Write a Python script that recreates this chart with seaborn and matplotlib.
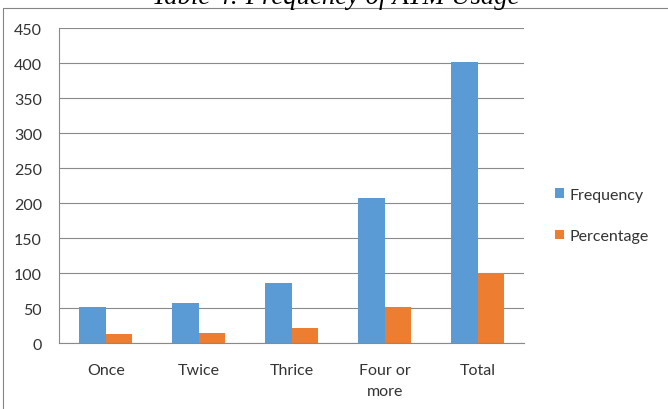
import matplotlib
matplotlib.use("Agg")
import matplotlib.pyplot as plt
from matplotlib.lines import Line2D
import numpy as np
import pandas as pd
import seaborn as sns

# ATM usage survey results
categories = ["Once", "Twice", "Thrice", "Four or\nmore", "Total"]
frequency = [52, 57, 86, 207, 402]
percentage = [12.9, 14.2, 21.4, 51.5, 100]
series_names = ["Frequency", "Percentage"]
y_ticks = [0, 50, 100, 150, 200, 250, 300, 350, 400, 450]
title = "Table 4: Frequency of ATM Usage"

BLUE = "#5B9BD5"
ORANGE = "#ED7D31"
GRID = "#8A8A8A"
TEXT = "#333333"

sns.set_style("white")
plt.rcParams["font.family"] = ["Lato", "DejaVu Sans"]

df = pd.DataFrame({
    "category": categories * 2,
    "value": frequency + percentage,
    "series": [series_names[0]] * len(categories) + [series_names[1]] * len(categories),
})

W, H = 668, 410
fig = plt.figure(figsize=(W / 100, H / 100), dpi=100)
ax = fig.add_axes([59.3 / W, 1 - 344.3 / H, (524 - 59.3) / W, (344.3 - 29.3) / H])

sns.barplot(data=df, x="category", y="value", hue="series",
            palette=[BLUE, ORANGE], saturation=1, width=0.57,
            linewidth=0, errorbar=None, ax=ax)

ax.set_xlim(-0.5, len(categories) - 0.5)
ax.set_ylim(0, 450)
ax.set_yticks(y_ticks)
ax.set_xlabel("")
ax.set_ylabel("")
ax.set_axisbelow(True)
ax.yaxis.grid(True, color=GRID, linewidth=0.8)
ax.xaxis.grid(False)

for side in ("top", "right"):
    ax.spines[side].set_visible(False)
for side in ("left", "bottom"):
    ax.spines[side].set_color(GRID)
    ax.spines[side].set_linewidth(0.8)

# category boundaries get the tick marks, labels sit in between
ax.set_xticks(np.arange(-0.5, len(categories)), minor=True)
ax.tick_params(axis="x", which="minor", length=4.5, width=0.8, color=GRID, direction="out")
ax.tick_params(axis="x", which="major", length=0, pad=14, labelsize=11.5, labelcolor=TEXT)
ax.tick_params(axis="y", which="major", length=4.5, width=0.8, color=GRID, direction="out",
               pad=8, labelsize=11.5, labelcolor=TEXT)
for lbl in ax.get_xticklabels():
    lbl.set_linespacing(1.65)

handles, labels = ax.get_legend_handles_labels()
ax.get_legend().remove()
fig.legend(handles, labels, loc="center left", bbox_to_anchor=(555 / W, 1 - 216.5 / H),
           frameon=False, fontsize=11.5, handlelength=0.56, handleheight=0.56,
           handletextpad=0.32, labelspacing=1.7, borderpad=0, borderaxespad=0,
           labelcolor=TEXT)

# title, sized to its printed width
t = fig.text(336 / W, 1 - 3.5 / H, title, family="Liberation Serif", style="italic",
             ha="center", va="baseline", fontsize=19, color="black")
fig.canvas.draw()
w = t.get_window_extent(fig.canvas.get_renderer()).width
t.set_fontsize(19 * 368 / w)

# chart frame
fig.add_artist(Line2D([3 / W, 3 / W], [0, 1 - 8.5 / H], color="#858585", linewidth=0.8))
fig.add_artist(Line2D([3 / W, 1], [1 - 8.5 / H, 1 - 8.5 / H], color="#858585", linewidth=0.8))

fig.savefig("out.png", dpi=100)
